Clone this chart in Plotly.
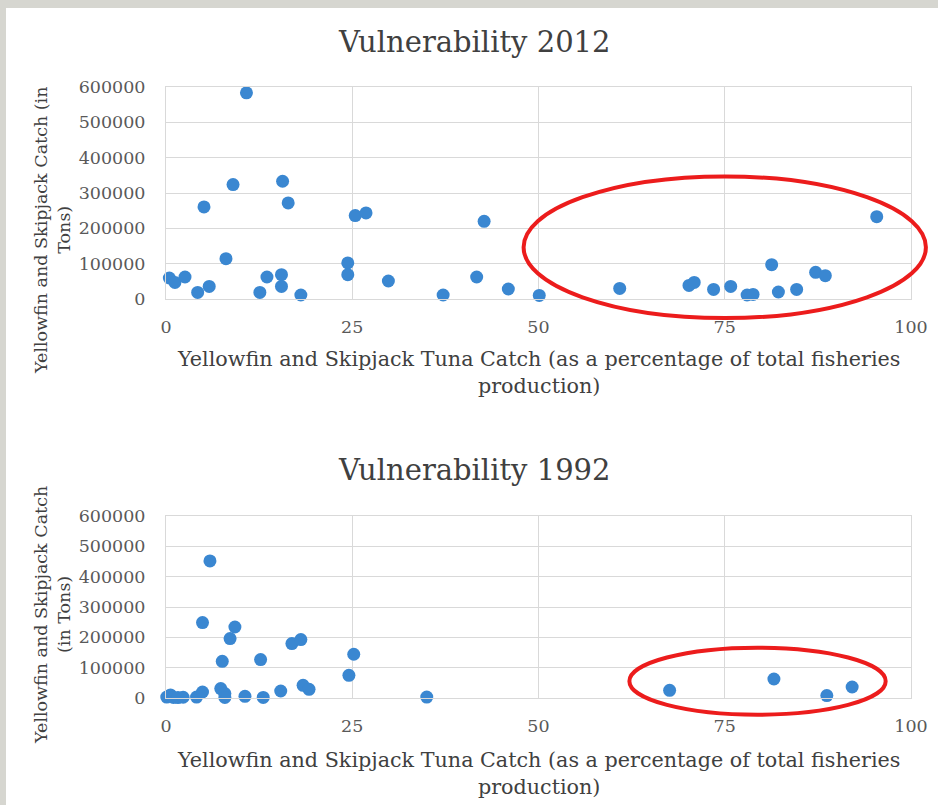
import plotly.graph_objects as go

# ---------------- data ----------------
x2012 = [0.45, 1.2, 2.55, 4.25, 5.8, 8.05, 5.1, 9.0, 10.8, 12.6, 13.55, 15.5, 15.5, 15.65,
         16.4, 18.1, 24.4, 24.4, 25.4, 26.85, 29.85, 37.2, 41.7, 42.7, 45.95, 50.1, 60.9,
         70.2, 70.9, 73.5, 75.8, 78.0, 78.8, 81.3, 82.2, 84.65, 87.2, 88.5, 95.4]
y2012 = [59500, 47000, 62300, 18700, 35700, 114000, 260600, 323800, 583600, 18700, 62300,
         68800, 35700, 333200, 272000, 11300, 102000, 68800, 236000, 243600, 51000, 11300,
         62300, 219800, 28300, 10200, 30000, 38500, 47000, 27200, 35700, 11300, 13000, 97200,
         19800, 27200, 75400, 66000, 233100]

x1992 = [0.1, 0.6, 1.0, 1.6, 2.3, 4.1, 4.9, 4.9, 5.9, 7.35, 7.55, 7.9, 7.9, 8.6, 9.25,
         10.6, 12.7, 13.05, 15.4, 16.9, 18.1, 18.4, 19.2, 24.55, 25.2, 35.0, 67.6, 81.6,
         88.7, 92.1]
y1992 = [3000, 10000, 2000, 1500, 2500, 3000, 19800, 248800, 452000, 31000, 121000, 14500,
         2000, 196000, 234000, 5600, 126700, 2000, 23100, 179500, 192700, 41900, 28700,
         74900, 144200, 3000, 25400, 62700, 7900, 36300]

x_ticks = [0, 25, 50, 75, 100]
y_ticks = [0, 100000, 200000, 300000, 400000, 500000, 600000]

titles = ["Vulnerability 2012", "Vulnerability 1992"]
x_title = "Yellowfin and Skipjack Tuna Catch (as a percentage of total fisheries<br>production)"
y_titles = ["Yellowfin and Skipjack Catch (in<br>Tons)", "Yellowfin and Skipjack Catch<br>(in Tons)"]

# highlighted regions (data units): x0, x1, y0, y1
ellipse2012 = [48.0, 102.0, -54000, 347000]
ellipse1992 = [62.2, 96.6, -55000, 166000]

# ---------------- layout helpers ----------------
W, H = 938, 805
FONT = "DejaVu Serif"
BLUE = "#3a87d1"
GRID = "#d9d9d9"
BG = "#d6d6d0"


def px_x(p):
    return p / W


def px_y(p):
    return 1 - p / H


XR = [0, 100]
YR = [0, 600000]

fig = go.Figure()
fig.add_trace(go.Scatter(x=x2012, y=y2012, mode="markers", xaxis="x", yaxis="y",
                         marker=dict(size=13, color=BLUE), cliponaxis=False, showlegend=False))
fig.add_trace(go.Scatter(x=x1992, y=y1992, mode="markers", xaxis="x2", yaxis="y2",
                         marker=dict(size=13, color=BLUE), cliponaxis=False, showlegend=False))

axis_common = dict(showgrid=True, gridcolor=GRID, gridwidth=1, zeroline=False,
                   showline=True, linecolor=GRID, linewidth=1, mirror=True,
                   ticks="outside", ticklen=0, tickformat="d", automargin=False,
                   tickfont=dict(family=FONT, size=17.5, color="#595959"))

xdom = [px_x(166), px_x(911)]
fig.update_layout(
    width=W, height=H,
    margin=dict(l=0, r=0, t=0, b=0, pad=0, autoexpand=False),
    paper_bgcolor=BG,
    plot_bgcolor="white",
    xaxis=dict(domain=xdom, range=XR, tickvals=x_ticks, anchor="y", ticklabelstandoff=12, **axis_common),
    yaxis=dict(domain=[px_y(299), px_y(87)], range=YR, tickvals=y_ticks, anchor="x",
               ticklabelstandoff=16, **axis_common),
    xaxis2=dict(domain=xdom, range=XR, tickvals=x_ticks, anchor="y2", ticklabelstandoff=12, **axis_common),
    yaxis2=dict(domain=[px_y(698), px_y(516)], range=YR, tickvals=y_ticks, anchor="x2",
                ticklabelstandoff=16, **axis_common),
)

# white panel
fig.add_shape(type="rect", xref="paper", yref="paper", x0=px_x(6), x1=1.0, y0=0, y1=px_y(8),
              fillcolor="white", line=dict(width=0), layer="below")

# titles and axis titles
for title, ty in zip(titles, [42, 470]):
    fig.add_annotation(text=title, xref="paper", yref="paper", x=px_x(474), y=px_y(ty),
                       showarrow=False, xanchor="center", yanchor="middle",
                       font=dict(family=FONT, size=29, color="#404040"))
for xy in [372, 773]:
    fig.add_annotation(text=x_title, xref="paper", yref="paper", x=px_x(538), y=px_y(xy),
                       showarrow=False, xanchor="center", yanchor="middle", align="center",
                       font=dict(family=FONT, size=20.7, color="#404040"))
for t, cy in zip(y_titles, [231, 615]):
    fig.add_annotation(text=t, xref="paper", yref="paper", x=px_x(52), y=px_y(cy),
                       showarrow=False, xanchor="center", yanchor="middle", align="center",
                       textangle=-90, font=dict(family=FONT, size=17.5, color="#404040"))


# red ellipses (domain refs so they are not clipped)
def dom(v, r):
    return (v - r[0]) / (r[1] - r[0])


for (ex0, ex1, ey0, ey1), xa, ya in [(ellipse2012, "x", "y"), (ellipse1992, "x2", "y2")]:
    fig.add_shape(type="circle", xref=f"{xa} domain", yref=f"{ya} domain",
                  x0=dom(ex0, XR), x1=dom(ex1, XR), y0=dom(ey0, YR), y1=dom(ey1, YR),
                  line=dict(color="#ec1c1c", width=4), layer="above")

fig.write_html("out.html", config={"displayModeBar": False},
               post_script="document.body.style.margin='0';document.body.style.overflow='hidden';"
                           "document.body.style.background='" + BG + "';")
